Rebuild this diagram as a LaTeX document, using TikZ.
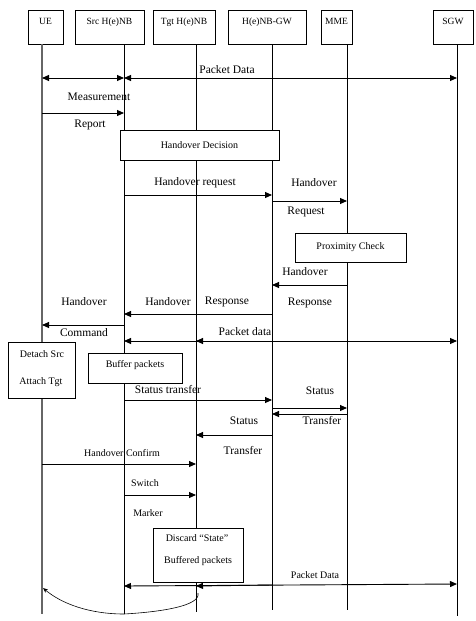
\documentclass[tikz,border=0pt]{standalone}
\usepackage{fontspec}
\setmainfont{Liberation Serif}
\usetikzlibrary{arrows.meta}
\begin{document}
\begin{tikzpicture}[x=1pt,y=-1pt,
  hdr/.style={draw,line width=0.9pt,fill=white,anchor=north,text height=8pt,text depth=14pt,inner ysep=6pt,inner xsep=1pt,font=\fontsize{9.5}{11}\selectfont},
  lifeline/.style={line width=0.8pt},
  msg/.style={line width=0.9pt,-{Triangle[length=7pt,width=6pt]}},
  dmsg/.style={line width=0.9pt,{Triangle[length=7pt,width=6pt]}-{Triangle[length=7pt,width=6pt]}},
  lbl/.style={font=\fontsize{11.5}{13}\selectfont,inner sep=0pt},
  slbl/.style={font=\fontsize{10}{12}\selectfont,inner sep=0pt},
  procbox/.style={draw,line width=0.9pt,fill=white}]
\useasboundingbox[fill=white] (0,0) rectangle (475,621);

% headers
\node[hdr,minimum width=35pt] (ueH) at (45.5,10) {UE};
\node[hdr,minimum width=69pt] (srcH) at (109.5,10) {Src H(e)NB};
\node[hdr,minimum width=62pt] (tgtH) at (184,10) {Tgt H(e)NB};
\node[hdr,minimum width=78pt] (gwH) at (267,10) {H(e)NB-GW};
\node[hdr,minimum width=31pt] (mmeH) at (336.5,10) {MME};
\node[hdr,minimum width=40pt] (sgwH) at (453,10) {SGW};

% lifeline anchors
\coordinate (ue) at (42,44);
\coordinate (src) at (124,44);
\coordinate (tgt) at (196,44);
\coordinate (gw) at (272,44);
\coordinate (mme) at (347,44);
\coordinate (sgw) at (457,44);

\draw[lifeline,line width=1.4pt,black!60] (ue) -- (ue |- 0,614);
\draw[lifeline] (src) -- (src |- 0,614);
\draw[lifeline] (tgt) -- (tgt |- 0,612);
\draw[lifeline] (gw) -- (gw |- 0,610);
\draw[lifeline] (mme) -- (mme |- 0,610);
\draw[lifeline] (sgw) -- (sgw |- 0,616);

% messages
\draw[dmsg] (ue |- 0,78) -- (src |- 0,78);
\draw[dmsg] (src |- 0,78) -- (sgw |- 0,78);
\node[lbl] (l1) at (227,70) {Packet Data};

\draw[msg] (ue |- 0,113) -- (src |- 0,113);
\node[lbl] (l2) at (99,97) {Measurement};
\node[lbl] (l3) at (90,125) {Report};

\node[procbox,minimum width=159pt,minimum height=30pt,font=\fontsize{10}{12}\selectfont] (hd) at (199.5,145) {Handover Decision};

\draw[msg] (src |- 0,195) -- (gw |- 0,195);
\node[lbl] (l4) at (195,183) {Handover request};

\draw[msg] (gw |- 0,201) -- (mme |- 0,201);
\node[lbl] (l5) at (314,183) {Handover};
\node[lbl] (l6) at (306,212) {Request};

\node[procbox,minimum width=111pt,minimum height=29pt,font=\fontsize{10}{12}\selectfont] (pc) at (350.5,247.5) {Proximity Check};

\draw[msg] (mme |- 0,285) -- (gw |- 0,285);
\node[lbl] (l7) at (305,272) {Handover};
\node[lbl] (l8) at (310,303) {Response};

\draw[msg] (gw |- 0,314) -- (src |- 0,314);
\node[lbl] (l9) at (168,302) {Handover};
\node[lbl] (l10) at (227,302) {Response};
\node[lbl] (l11) at (84,302) {Handover};

\draw[msg] (src |- 0,325) -- (ue |- 0,325);
\node[lbl] (l12) at (84,333) {Command};

\draw[dmsg] (src |- 0,341) -- (sgw |- 0,341);
\draw[msg] (gw |- 0,341) -- (tgt |- 0,341);
\node[lbl] (l13) at (245,332) {Packet data};

\node[procbox,minimum width=67pt,minimum height=56pt] (det) at (41.5,370) {};
\node[slbl] (d1) at (42,354) {Detach Src};
\node[slbl] (d2) at (41,382) {Attach Tgt};

\node[procbox,minimum width=94pt,minimum height=30pt,font=\fontsize{10}{12}\selectfont,text depth=9pt] (buf) at (135,368) {Buffer packets};

\draw[msg] (src |- 0,400) -- (gw |- 0,400);
\node[lbl] (l14) at (168,390) {Status transfer};

\draw[msg] (gw |- 0,408) -- (mme |- 0,408);
\draw[msg] (mme |- 0,414) -- (gw |- 0,414);
\node[lbl] (l15) at (320,391) {Status};
\node[lbl] (l16) at (322,421) {Transfer};

\draw[msg] (gw |- 0,435) -- (tgt |- 0,435);
\node[lbl] (l17) at (244,421) {Status};
\node[lbl] (l18) at (243,451) {Transfer};

\draw[msg] (ue |- 0,464) -- (tgt |- 0,464);
\node[slbl] (l19) at (122,453) {Handover Confirm};

\draw[msg] (src |- 0,495) -- (tgt |- 0,495);
\node[slbl] (l20) at (145,483) {Switch};
\node[slbl] (l21) at (148,513) {Marker};

\node[procbox,minimum width=90pt,minimum height=54pt] (dis) at (198,555) {};
\node[slbl] (x1) at (197,538) {Discard “State”};
\node[slbl] (x2) at (198,561) {Buffered packets};

\draw[dmsg] (src |- 0,586) -- (sgw |- 0,584);
\draw[msg] (gw |- 0,585) -- (tgt |- 0,586);
\node[slbl] (l22) at (315,575) {Packet Data};

% hand-drawn curve
\coordinate (cA) at (198,593);
\coordinate (cB) at (124,614);
\coordinate (cC) at (43,588);
\draw[line width=0.6pt,-{Stealth[length=5pt,width=4pt]}] (cA) .. controls (201,606) and (160,612) .. (cB) .. controls (90,614) and (62,604) .. (cC);
\end{tikzpicture}
\end{document}
